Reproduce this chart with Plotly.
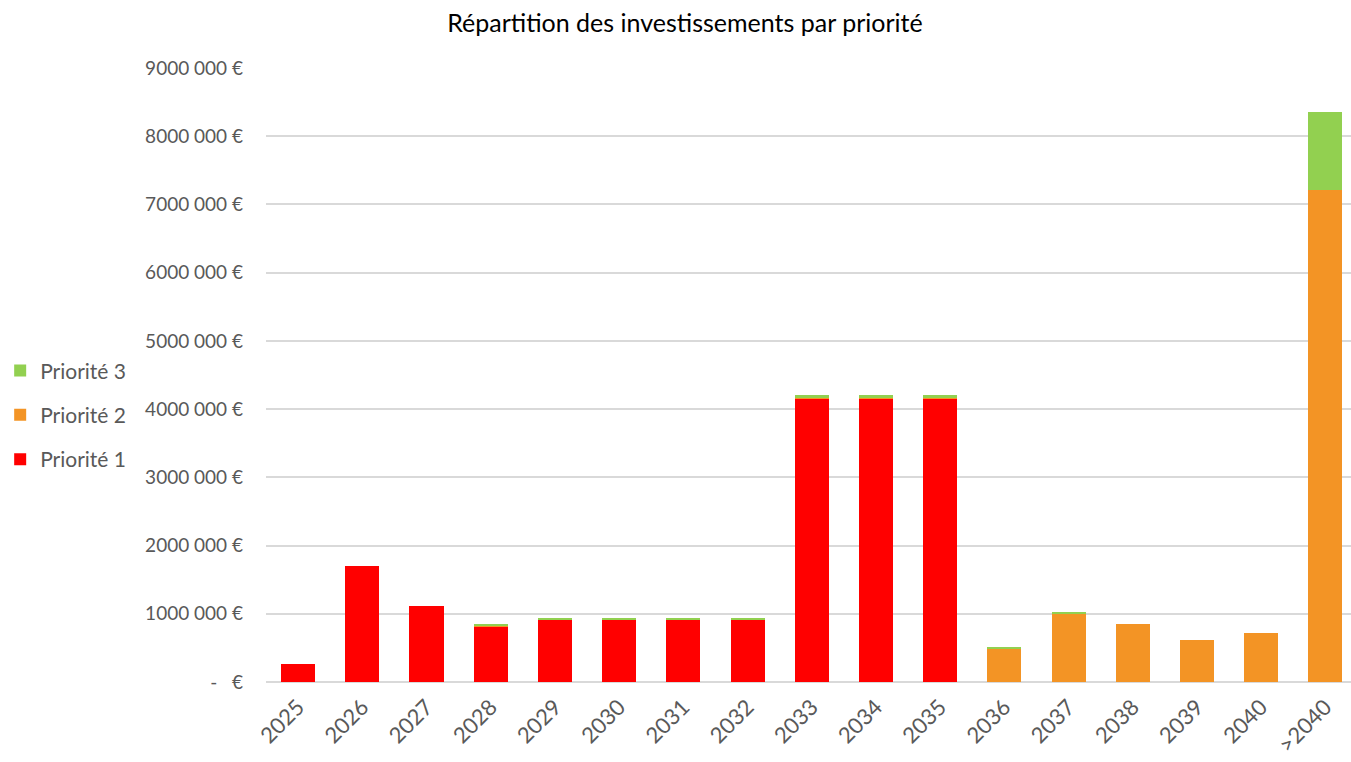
import plotly.graph_objects as go

# Années d'investissement
years = ["2025", "2026", "2027", "2028", "2029", "2030", "2031", "2032", "2033",
         "2034", "2035", "2036", "2037", "2038", "2039", "2040", ">2040"]

# Montants par priorité (€)
priorite_1 = [260000, 1700000, 1110000, 810000, 920000, 920000, 920000, 920000,
              4155000, 4155000, 4155000, 0, 0, 0, 0, 0, 0]
priorite_2 = [0, 0, 0, 20000, 0, 0, 0, 0,
              20000, 20000, 20000, 490000, 1010000, 846000, 616000, 714000, 7210000]
priorite_3 = [0, 0, 0, 20000, 20000, 20000, 20000, 20000,
              25000, 25000, 25000, 15000, 20000, 0, 0, 0, 1150000]

# Graduations de l'axe des montants
y_ticks = [0, 1000000, 2000000, 3000000, 4000000, 5000000, 6000000, 7000000, 8000000, 9000000]
y_labels = ["-\u00a0\u00a0\u00a0€", "1000 000 €", "2000 000 €", "3000 000 €", "4000 000 €",
            "5000 000 €", "6000 000 €", "7000 000 €", "8000 000 €", "9000 000 €"]

FONT = "Lato, 'Open Sans', sans-serif"
GREY = "#595959"

fig = go.Figure()
series = [
    ("Priorité 1", priorite_1, "#FF0000", 3),
    ("Priorité 2", priorite_2, "#F39425", 2),
    ("Priorité 3", priorite_3, "#92D050", 1),
]
for name, values, color, rank in series:
    fig.add_trace(go.Bar(
        x=years, y=values, name=name, legendgroup=name, legendrank=rank,
        marker=dict(color=color, line=dict(width=0)),
        hovertemplate="%{x}<br>%{y:,.0f} €<extra>" + name + "</extra>",
    ))

fig.update_layout(
    barmode="stack",
    bargap=0.47,
    width=1351, height=762,
    margin=dict(l=266, r=0, t=68, b=80),
    paper_bgcolor="white",
    plot_bgcolor="white",
    font=dict(family=FONT, color=GREY),
    title=dict(
        text="Répartition des investissements par priorité",
        x=0.507, xanchor="center", y=0.97, yanchor="middle",
        font=dict(family=FONT, size=25, color="#000000"),
    ),
    legend=dict(
        x=-0.245, xanchor="left", y=0.435, yanchor="middle",
        traceorder="grouped", tracegroupgap=14,
        font=dict(family=FONT, size=21, color=GREY),
        itemwidth=30,
    ),
    xaxis=dict(
        range=[-0.5, 16.4],
        tickangle=-45,
        tickfont=dict(family=FONT, size=22, color=GREY),
        showgrid=False,
        showline=False,
        ticks="",
        ticklabelstandoff=7,
        automargin=False,
    ),
    yaxis=dict(
        range=[0, 9000000],
        tickvals=y_ticks, ticktext=y_labels,
        tickfont=dict(family=FONT, size=19, color=GREY),
        gridcolor="#D9D9D9", gridwidth=1.5,
        zeroline=True, zerolinecolor="#D9D9D9", zerolinewidth=1.5,
        ticklabelstandoff=22,
        showline=False,
        automargin=False,
    ),
)

fig.write_html("out.html")
